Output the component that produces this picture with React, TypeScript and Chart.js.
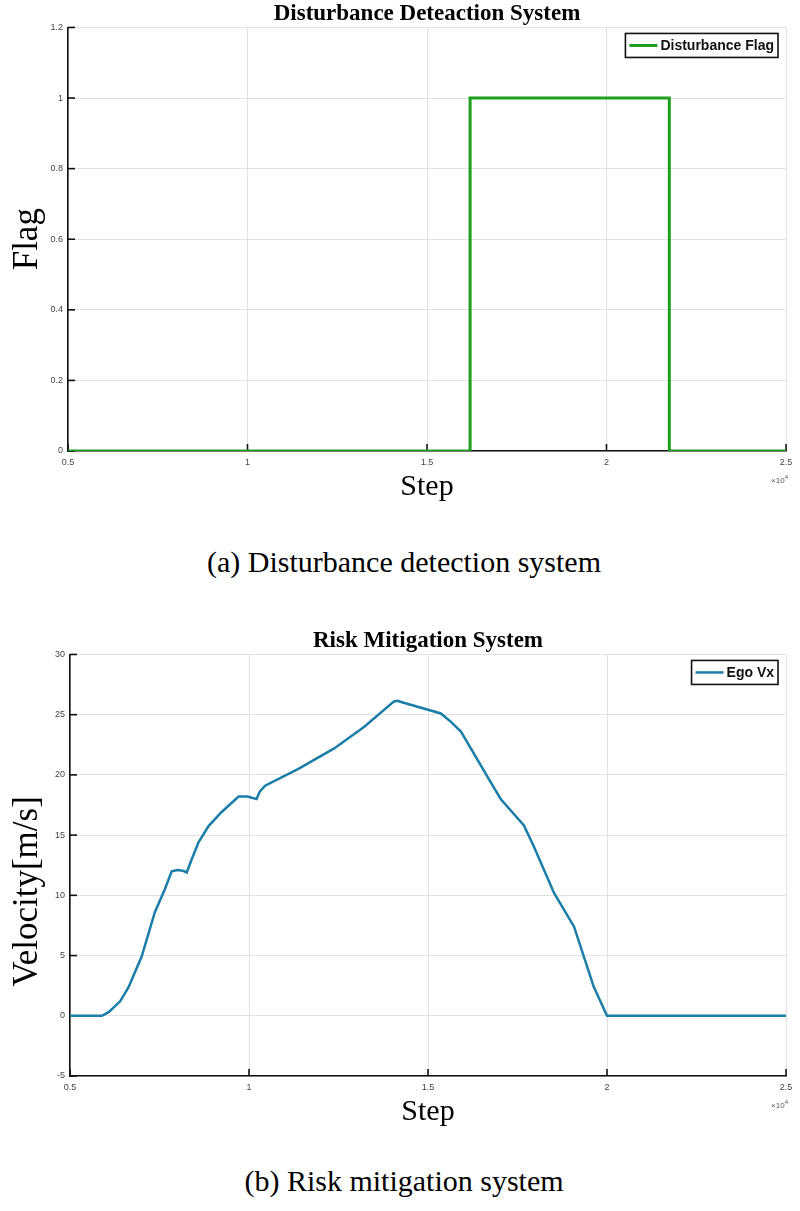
import React, { useEffect, useRef } from "react";
import { Chart, registerables } from "chart.js";

Chart.register(...registerables);

// ---- Data: (a) Disturbance detection system ----
const flagSteps = [5000, 16200, 16200, 21750, 21750, 25000];
const flagValues = [0, 0, 1, 1, 0, 0];
const flagLabel = "Disturbance Flag";
const flagTitle = "Disturbance Deteaction System";

// ---- Data: (b) Risk mitigation system ----
const velSteps = [
  5000, 5890, 6080, 6400, 6640, 6810, 7000, 7370, 7650, 7840, 8000, 8150, 8260,
  8400, 8590, 8870, 9230, 9710, 9950, 10210, 10300, 10450, 11380, 12380, 13220,
  14050, 14150, 14250, 15360, 15640, 15920, 16750, 17030, 17680, 17950, 18520,
  19080, 19630, 20000, 25000,
];
const velValues = [
  0, 0, 0.3, 1.2, 2.4, 3.6, 4.9, 8.6, 10.5, 12.0, 12.1, 12.05, 11.9, 13.0,
  14.4, 15.75, 16.9, 18.2, 18.2, 18.0, 18.6, 19.1, 20.5, 22.2, 24.0, 26.1,
  26.15, 26.05, 25.1, 24.4, 23.6, 19.4, 18.0, 15.8, 14.1, 10.2, 7.4, 2.4, 0, 0,
];
const velLabel = "Ego Vx";
const velTitle = "Risk Mitigation System";

const xTickStep = 5000;
const xMin = 5000;
const xMax = 25000;

const SERIF = "'Liberation Serif', 'Times New Roman', serif";
const SANS = "'Liberation Sans', Arial, sans-serif";

const matlabDecor = {
  id: "matlabDecor",
  beforeDatasetsDraw(chart: any) {
    const { ctx, chartArea: a, scales } = chart;
    const x = scales.x;
    const y = scales.y;
    ctx.save();
    ctx.strokeStyle = "#111";
    ctx.lineWidth = 1.6;
    x.ticks.forEach((t: any) => {
      const px = x.getPixelForValue(t.value);
      ctx.beginPath();
      ctx.moveTo(px, a.bottom);
      ctx.lineTo(px, a.bottom - 7);
      ctx.stroke();
    });
    y.ticks.forEach((t: any) => {
      const py = y.getPixelForValue(t.value);
      ctx.beginPath();
      ctx.moveTo(a.left, py);
      ctx.lineTo(a.left + 7, py);
      ctx.stroke();
    });
    ctx.restore();
  },
  afterDatasetsDraw(chart: any) {
    const { ctx, chartArea: a } = chart;
    const ds = chart.data.datasets[0];
    ctx.save();
    // exponent label x10^4
    ctx.fillStyle = "#555";
    ctx.textBaseline = "middle";
    ctx.font = `6px ${SANS}`;
    const sup = "4";
    const supW = ctx.measureText(sup).width;
    ctx.textAlign = "right";
    ctx.fillText(sup, a.right + 2, a.bottom + 26);
    ctx.font = `8px ${SANS}`;
    ctx.fillText("\u00d710", a.right + 2 - supW, a.bottom + 30);

    // legend box
    ctx.font = `bold 14px ${SANS}`;
    const tw = ctx.measureText(ds.label).width;
    const lineLen = 28;
    const boxW = 4 + lineLen + 3 + tw + 4;
    const boxH = 24;
    const bx = a.right - 8 - boxW;
    const by = a.top + 6;
    ctx.fillStyle = "#fff";
    ctx.fillRect(bx, by, boxW, boxH);
    ctx.strokeStyle = "#111";
    ctx.lineWidth = 1.6;
    ctx.strokeRect(bx, by, boxW, boxH);
    ctx.strokeStyle = ds.borderColor;
    ctx.lineWidth = ds.borderWidth;
    ctx.beginPath();
    ctx.moveTo(bx + 4, by + boxH / 2);
    ctx.lineTo(bx + 4 + lineLen, by + boxH / 2);
    ctx.stroke();
    ctx.fillStyle = "#111";
    ctx.textAlign = "left";
    ctx.fillText(ds.label, bx + 4 + lineLen + 3, by + boxH / 2 + 1);
    ctx.restore();
  },
};

function makeConfig(opts: {
  steps: number[];
  values: number[];
  label: string;
  color: string;
  width: number;
  title: string;
  titlePadTop: number;
  yLabel: string;
  yMin: number;
  yMax: number;
  yStep: number;
  yFmt: (v: number) => string;
  yAxisWidth: number;
  xAxisHeight: number;
}): any {
  return {
    type: "line",
    data: {
      datasets: [
        {
          label: opts.label,
          data: opts.steps.map((s, i) => ({ x: s, y: opts.values[i] })),
          borderColor: opts.color,
          borderWidth: opts.width,
          pointRadius: 0,
          tension: 0,
          fill: false,
        },
      ],
    },
    options: {
      responsive: false,
      animation: false,
      devicePixelRatio: 1,
      layout: { padding: { left: 0, right: 14, top: 0, bottom: 0 } },
      plugins: {
        legend: { display: false },
        tooltip: { enabled: false },
        title: {
          display: true,
          fullSize: false,
          text: opts.title,
          color: "#000",
          font: { family: SERIF, size: 23, weight: "bold", lineHeight: 1.15 },
          padding: { top: opts.titlePadTop, bottom: 0 },
        },
      },
      scales: {
        x: {
          type: "linear",
          min: xMin,
          max: xMax,
          afterFit: (s: any) => {
            s.height = opts.xAxisHeight;
          },
          ticks: {
            stepSize: xTickStep,
            color: "#444",
            font: { family: SANS, size: 9 },
            padding: 6,
            maxRotation: 0,
            callback: (v: any) => String(Number(v) / 10000),
          },
          grid: { color: "#e2e2e2", lineWidth: 1, drawTicks: false },
          border: { color: "#111", width: 1.6 },
          title: {
            display: true,
            text: "Step",
            color: "#000",
            font: { family: SERIF, size: 30, lineHeight: 1 },
            padding: { top: 0, bottom: 18 },
          },
        },
        y: {
          type: "linear",
          min: opts.yMin,
          max: opts.yMax,
          afterFit: (s: any) => {
            s.width = opts.yAxisWidth;
          },
          ticks: {
            stepSize: opts.yStep,
            color: "#444",
            font: { family: SANS, size: 9 },
            padding: 5,
            callback: (v: any) => opts.yFmt(Number(v)),
          },
          grid: { color: "#e2e2e2", lineWidth: 1, drawTicks: false },
          border: { color: "#111", width: 1.6 },
          title: {
            display: true,
            text: opts.yLabel,
            color: "#000",
            font: { family: SERIF, size: 35, lineHeight: 1 },
            padding: { top: 10, bottom: 0 },
          },
        },
      },
    },
    plugins: [matlabDecor],
  };
}

export default function App() {
  const ref1 = useRef<HTMLCanvasElement | null>(null);
  const ref2 = useRef<HTMLCanvasElement | null>(null);

  useEffect(() => {
    const c1 = new Chart(
      ref1.current as HTMLCanvasElement,
      makeConfig({
        steps: flagSteps,
        values: flagValues,
        label: flagLabel,
        color: "#1f9f1f",
        width: 3,
        title: flagTitle,
        titlePadTop: 1,
        yLabel: "Flag",
        yMin: 0,
        yMax: 1.2,
        yStep: 0.2,
        yFmt: (v) => String(Math.round(v * 10) / 10),
        yAxisWidth: 68,
        xAxisHeight: 69,
      })
    );
    const c2 = new Chart(
      ref2.current as HTMLCanvasElement,
      makeConfig({
        steps: velSteps,
        values: velValues,
        label: velLabel,
        color: "#1a7ea8",
        width: 2.5,
        title: velTitle,
        titlePadTop: 13,
        // trailing spaces move the label down slightly, as in the source figure
        yLabel: "Velocity[m/s]      ",
        yMin: -5,
        yMax: 30,
        yStep: 5,
        yFmt: (v) => String(Math.round(v)),
        yAxisWidth: 70,
        xAxisHeight: 69,
      })
    );
    return () => {
      c1.destroy();
      c2.destroy();
    };
  }, []);

  const caption: React.CSSProperties = {
    position: "absolute",
    left: 4,
    width: 800,
    textAlign: "center",
    fontFamily: SERIF,
    fontSize: 30,
    lineHeight: "44px",
    color: "#000",
  };

  return (
    <div
      style={{
        position: "absolute",
        left: 0,
        top: 0,
        width: 800,
        height: 1211,
        background: "#fff",
        overflow: "hidden",
      }}
    >
      <canvas
        ref={ref1}
        width={800}
        height={520}
        style={{ position: "absolute", left: 0, top: 0, display: "block" }}
      />
      <div style={{ ...caption, top: 540 }}>(a) Disturbance detection system</div>
      <canvas
        ref={ref2}
        width={800}
        height={530}
        style={{ position: "absolute", left: 0, top: 615, display: "block" }}
      />
      <div style={{ ...caption, top: 1159 }}>(b) Risk mitigation system</div>
    </div>
  );
}
